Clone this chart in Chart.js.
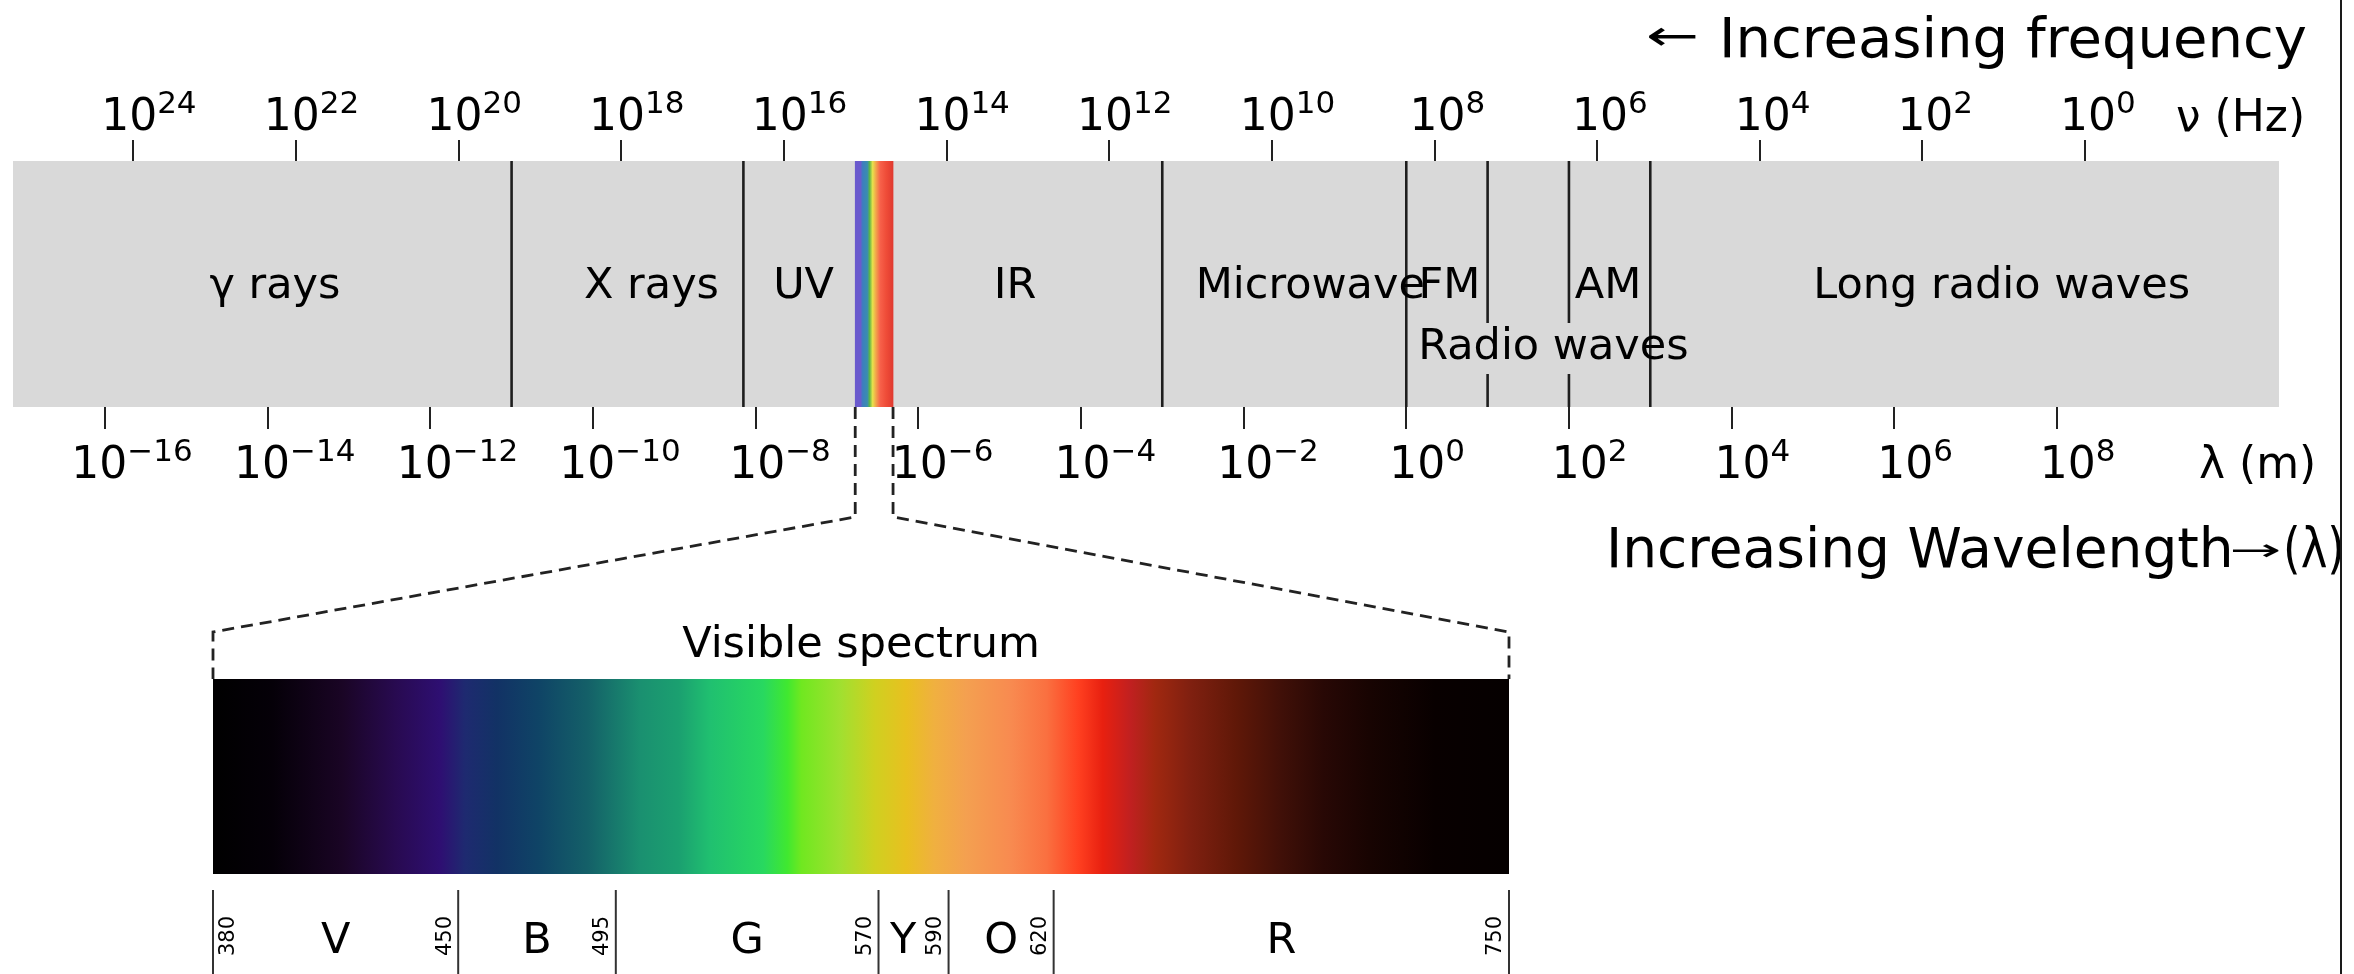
<!DOCTYPE html>
<html>
<head>
<meta charset="utf-8">
<script src="https://cdn.jsdelivr.net/npm/chart.js@4.4.0/dist/chart.umd.min.js"></script>
<style>
  html, body { margin: 0; padding: 0; background: #fff; overflow: hidden; }
  #wrap { position: relative; width: 2354px; height: 974px; }
  canvas { position: absolute; left: 0; top: 0; }
  #edge { position: absolute; left: 2340px; top: 0; width: 2px; height: 974px; background: #1a1a1a; }
</style>
</head>
<body>
<div id="wrap">
  <canvas id="emChart" width="2354" height="974"></canvas>
  <canvas id="visChart" width="2354" height="974"></canvas>
  <div id="edge"></div>
</div>
<script>
/* ---------- DATA ---------- */

// lower axis: exponents of the wavelength in metres
const waveTicks = [-16, -14, -12, -10, -8, -6, -4, -2, 0, 2, 4, 6, 8];
// upper axis: exponents of the frequency in Hz
const freqTicks = [24, 22, 20, 18, 16, 14, 12, 10, 8, 6, 4, 2, 0];

// band names, where their labels sit and the lines between them (log10 of λ in m)
const bandNames = ['γ rays', 'X rays', 'UV', 'IR', 'Microwave', 'FM', 'AM', 'Long radio waves'];
const bandCentres = [-13.91, -9.28, -7.41, -4.81, -1.18, 0.53, 2.48, 7.32];
const bandEdges = [-11, -8.15, -3, 0, 1, 2, 3];
const edgeBroken = [false, false, false, false, true, true, false];
const radioName = 'Radio waves';
const radioCentre = 1.81;
// the little rainbow strip in the band
const visibleRange = [-6.775, -6.31];
const rainbowStops = [0, 0.14, 0.2, 0.32, 0.38, 0.46, 0.55, 0.66, 0.82, 1];
const rainbowColours = ['#6a5acd', '#6a5acd', '#3b7fbf', '#3b8cb0', '#5bb548', '#e9e24c', '#f2a44a', '#f7614a', '#ef4c38', '#e03a30'];

// visible spectrum (nm)
const visTicks = [380, 450, 495, 570, 590, 620, 750];
const colourNames = ['V', 'B', 'G', 'Y', 'O', 'R'];
const colourCentres = [415, 472.5, 532.5, 577, 605, 685];
const visStopNm = [380, 397, 417, 432, 445, 452, 461, 473, 487, 502, 513, 522, 537, 544, 548, 559, 569, 578, 586, 595, 608, 618, 627, 634, 642, 649, 659, 672, 685, 697, 710, 729, 750];
const visStopColours = ['#000000', '#050008', '#1a0525', '#280a50', '#2e0f72', '#1e2a70', '#123265', '#0f4466', '#146068', '#1a9070', '#1ba070', '#20c070', '#28d860', '#40e830', '#70e820', '#a0e030', '#d0d020', '#e8c020', '#f0b040', '#f4a050', '#f88a50', '#fa7040', '#ff4020', '#e82010', '#c02020', '#a02810', '#802010', '#601808', '#401008', '#280805', '#180402', '#080000', '#050000'];

// axis limits
const waveMin = -17.13, waveMax = 10.73;
const freqMin = -2.384, freqMax = 25.48;

/* ---------- HELPERS ---------- */

const FONT = '"DejaVu Sans", sans-serif';

function regionRanges() {
    const edges = [waveMin].concat(bandEdges, [waveMax]);
    const out = [];
    for (let i = 0; i < edges.length - 1; i++) out.push([edges[i], edges[i + 1]]);
    return out;
}

// draws 10^exp the way matplotlib mathtext does
function drawPower(ctx, x, baseline, exp, extraShift) {
    const sup = exp < 0 ? '\u2212' + Math.abs(exp) : String(exp);
    ctx.font = '31px ' + FONT;
    const supW = ctx.measureText(sup).width;
    ctx.font = '44px ' + FONT;
    const baseW = ctx.measureText('10').width;
    const x0 = x - 10 - extraShift - 0.36 * supW;
    ctx.textAlign = 'left';
    ctx.textBaseline = 'alphabetic';
    ctx.fillText('10', x0, baseline);
    ctx.font = '31px ' + FONT;
    ctx.fillText(sup, x0 + baseW, baseline - 17);
}

// text squeezed or stretched to a given width
function drawStretched(ctx, text, font, x1, x2, baseline) {
    ctx.save();
    ctx.font = font;
    const w = ctx.measureText(text).width;
    ctx.translate(x1, baseline);
    ctx.scale((x2 - x1) / w, 1);
    ctx.textAlign = 'left';
    ctx.textBaseline = 'alphabetic';
    ctx.fillText(text, 0, 0);
    ctx.restore();
}

/* ---------- EM BAND ---------- */

const emDecor = {
    id: 'emDecor',
    afterDatasetsDraw(chart) {
        const ctx = chart.ctx;
        const area = chart.chartArea;
        const xs = chart.scales.x;
        const xt = chart.scales.xTop;
        ctx.save();
        ctx.fillStyle = '#000';

        // lines between the bands
        ctx.strokeStyle = '#1e1e1e';
        ctx.lineWidth = 2.6;
        bandEdges.forEach((e, i) => {
            const x = xs.getPixelForValue(e);
            ctx.beginPath();
            if (edgeBroken[i]) {
                ctx.moveTo(x, area.top);
                ctx.lineTo(x, area.top + 162);
                ctx.moveTo(x, area.top + 213);
                ctx.lineTo(x, area.bottom);
            } else {
                ctx.moveTo(x, area.top);
                ctx.lineTo(x, area.bottom);
            }
            ctx.stroke();
        });

        // band names
        ctx.font = '43px ' + FONT;
        ctx.textAlign = 'center';
        ctx.textBaseline = 'alphabetic';
        bandNames.forEach((name, i) => {
            ctx.fillText(name, xs.getPixelForValue(bandCentres[i]), area.top + 137);
        });
        ctx.fillText(radioName, xs.getPixelForValue(radioCentre), area.top + 198);

        // tick labels
        freqTicks.forEach(v => drawPower(ctx, xt.getPixelForValue(v), area.top - 31, v, 8));
        waveTicks.forEach(v => drawPower(ctx, xs.getPixelForValue(v), area.bottom + 71, v, 0));

        // axis names
        ctx.font = '44px ' + FONT;
        ctx.textAlign = 'left';
        ctx.fillText('\u03bd (Hz)', 2176, area.top - 30);
        ctx.fillText('\u03bb (m)', 2199, area.bottom + 71);

        // direction notes
        drawStretched(ctx, '\u2190', '42px ' + FONT, 1646, 1699, 50);
        ctx.font = '56px ' + FONT;
        ctx.fillText('Increasing frequency', 1719, 57);

        ctx.font = '55px ' + FONT;
        ctx.fillText('Increasing Wavelength', 1606, 567);
        drawStretched(ctx, '\u2192', '30px ' + FONT, 2229, 2281, 560);
        ctx.beginPath();
        ctx.rect(0, 0, 2340, 974);
        ctx.clip();
        drawStretched(ctx, '(\u03bb)', '55px ' + FONT, 2283, 2345, 567);

        ctx.restore();
    }
};

const tickGrid = len => ({
    drawOnChartArea: false,
    drawTicks: true,
    tickLength: len,
    color: '#222',
    lineWidth: 2
});

const emChart = new Chart(document.getElementById('emChart'), {
    type: 'bar',
    data: {
        labels: ['band'],
        datasets: [
            {
                label: 'visible',
                data: [{ x: visibleRange, y: 'band' }],
                backgroundColor: (c) => {
                    const ch = c.chart;
                    if (!ch.chartArea) return '#888';
                    const s = ch.scales.x;
                    const g = ch.ctx.createLinearGradient(s.getPixelForValue(visibleRange[0]), 0, s.getPixelForValue(visibleRange[1]), 0);
                    rainbowStops.forEach((p, i) => g.addColorStop(p, rainbowColours[i]));
                    return g;
                },
                borderWidth: 0,
                grouped: false,
                barPercentage: 1,
                categoryPercentage: 1,
                order: 1
            },
            {
                label: 'regions',
                data: regionRanges().map(r => ({ x: r, y: 'band' })),
                backgroundColor: '#d9d9d9',
                borderWidth: 0,
                grouped: false,
                barPercentage: 1,
                categoryPercentage: 1,
                order: 2
            }
        ]
    },
    options: {
        indexAxis: 'y',
        responsive: false,
        animation: false,
        devicePixelRatio: 1,
        layout: { padding: { left: 13, right: 75, top: 140, bottom: 545 } },
        plugins: { legend: { display: false }, tooltip: { enabled: false } },
        scales: {
            x: {
                type: 'linear',
                position: 'bottom',
                min: waveMin,
                max: waveMax,
                afterBuildTicks: s => { s.ticks = waveTicks.map(v => ({ value: v })); },
                ticks: { display: false },
                grid: tickGrid(22),
                border: { display: false }
            },
            xTop: {
                type: 'linear',
                axis: 'x',
                position: 'top',
                reverse: true,
                min: freqMin,
                max: freqMax,
                afterBuildTicks: s => { s.ticks = freqTicks.map(v => ({ value: v })); },
                ticks: { display: false },
                grid: tickGrid(21),
                border: { display: false }
            },
            y: { type: 'category', display: false }
        }
    },
    plugins: [emDecor]
});

/* ---------- VISIBLE SPECTRUM ---------- */

const visDecor = {
    id: 'visDecor',
    afterDatasetsDraw(chart) {
        const ctx = chart.ctx;
        const area = chart.chartArea;
        const xs = chart.scales.x;
        ctx.save();

        // dashed zoom lines from the rainbow strip
        const top = emChart.chartArea.bottom;
        const ex = emChart.scales.x;
        ctx.strokeStyle = '#222';
        ctx.lineWidth = 2.8;
        ctx.setLineDash([12, 7]);
        [[visibleRange[0], visTicks[0]], [visibleRange[1], visTicks[visTicks.length - 1]]].forEach(([w, nm]) => {
            const x1 = ex.getPixelForValue(w);
            const x2 = xs.getPixelForValue(nm);
            ctx.beginPath();
            ctx.moveTo(x1, top);
            ctx.lineTo(x1, top + 110);
            ctx.lineTo(x2, area.top - 47);
            ctx.lineTo(x2, area.top);
            ctx.stroke();
        });
        ctx.setLineDash([]);

        // title
        ctx.fillStyle = '#000';
        ctx.font = '43px ' + FONT;
        ctx.textAlign = 'center';
        ctx.textBaseline = 'alphabetic';
        ctx.fillText('Visible spectrum', (area.left + area.right) / 2, area.top - 22);

        // boundary lines and wavelengths
        ctx.strokeStyle = '#333';
        ctx.lineWidth = 2;
        visTicks.forEach((nm, i) => {
            const x = xs.getPixelForValue(nm);
            ctx.beginPath();
            ctx.moveTo(x, area.bottom + 16);
            ctx.lineTo(x, chart.height);
            ctx.stroke();
            ctx.save();
            ctx.translate(i === 0 ? x + 16 : x - 13, area.bottom + 82);
            ctx.rotate(-Math.PI / 2);
            ctx.font = '21px ' + FONT;
            ctx.textAlign = 'left';
            ctx.textBaseline = 'middle';
            ctx.fillText(String(nm), 0, 0);
            ctx.restore();
        });

        // colour letters
        ctx.font = '43px ' + FONT;
        ctx.textAlign = 'center';
        colourNames.forEach((n, i) => {
            ctx.fillText(n, xs.getPixelForValue(colourCentres[i]), area.bottom + 79);
        });
        ctx.restore();
    }
};

const visChart = new Chart(document.getElementById('visChart'), {
    type: 'bar',
    data: {
        labels: ['visible'],
        datasets: [{
            label: 'visible spectrum',
            data: [{ x: [visTicks[0], visTicks[visTicks.length - 1]], y: 'visible' }],
            backgroundColor: (c) => {
                const ch = c.chart;
                if (!ch.chartArea) return '#000';
                const s = ch.scales.x;
                const a = visStopNm[0], b = visStopNm[visStopNm.length - 1];
                const g = ch.ctx.createLinearGradient(s.getPixelForValue(a), 0, s.getPixelForValue(b), 0);
                visStopNm.forEach((nm, i) => g.addColorStop((nm - a) / (b - a), visStopColours[i]));
                return g;
            },
            borderWidth: 0,
            barPercentage: 1,
            categoryPercentage: 1
        }]
    },
    options: {
        indexAxis: 'y',
        responsive: false,
        animation: false,
        devicePixelRatio: 1,
        layout: { padding: { left: 213, right: 845, top: 679, bottom: 100 } },
        plugins: { legend: { display: false }, tooltip: { enabled: false } },
        scales: {
            x: { type: 'linear', min: 380, max: 750, display: false },
            y: { type: 'category', display: false }
        }
    },
    plugins: [visDecor]
});
</script>
</body>
</html>
